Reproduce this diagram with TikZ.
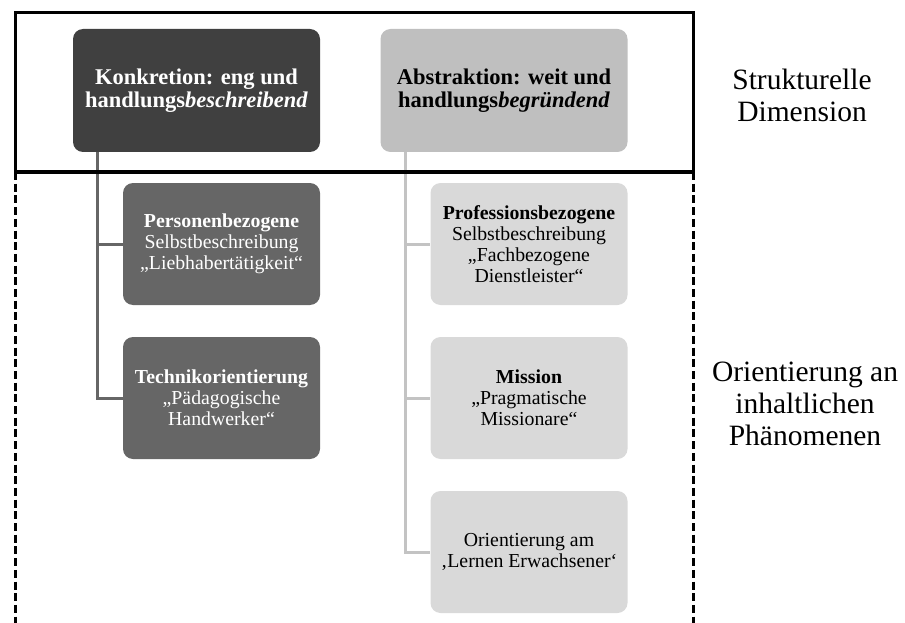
\documentclass[tikz,border=0pt]{standalone}
\usepackage{fontspec}
\setmainfont{Liberation Serif}
\usetikzlibrary{positioning}
\definecolor{darkbox}{HTML}{404040}
\definecolor{midbox}{HTML}{666666}
\definecolor{lightbox}{HTML}{BFBFBF}
\definecolor{paleback}{HTML}{D9D9D9}
\definecolor{paleline}{HTML}{C3C3C3}
\tikzset{
  headbox/.style={rounded corners=10pt, minimum width=247pt, minimum height=123pt,
    inner sep=0pt, align=center, font=\fontsize{22.5}{23}\selectfont\bfseries},
  subbox/.style={rounded corners=10pt, minimum width=197pt, minimum height=122pt,
    inner sep=0pt, align=center, font=\fontsize{19.8}{21}\selectfont},
  sidelabel/.style={align=center, font=\fontsize{29.5}{32}\selectfont},
  linkdark/.style={draw=midbox, line width=3pt},
  linklight/.style={draw=paleline, line width=3pt}
}

\begin{document}
\begin{tikzpicture}[x=1pt,y=-1pt]
                    \useasboundingbox (0,0) rectangle (905,623);
                    % obere Ebene
                    \node[headbox, fill=darkbox, text=white] (konk) at (196.5,90.5)
                      {Konkretion: eng und\\handlungs\textit{beschreibend}};
                    \node[headbox, fill=lightbox] (abst) at (504,90.5)
                      {Abstraktion: weit und\\handlungs\textit{begründend}};
                    % linke Spalte
                    \node[subbox, fill=midbox, text=white] (pers) at (221.5,244)
                      {\textbf{Personenbezogene}\\Selbstbeschreibung\\„Liebhabertätigkeit“};
                    \node[subbox, fill=midbox, text=white] (tech) at (221.5,398)
                      {\textbf{Technikorientierung}\\„Pädagogische\\Handwerker“};
                    % rechte Spalte
                    \node[subbox, fill=paleback] (prof) at (529,244)
                      {\textbf{Professionsbezogene}\\Selbstbeschreibung\\„Fachbezogene\\Dienstleister“};
                    \node[subbox, fill=paleback] (miss) at (529,398)
                      {\textbf{Mission}\\„Pragmatische\\Missionare“};
                    \node[subbox, fill=paleback] (lern) at (529,552)
                      {Orientierung am\\‚Lernen Erwachsener‘};
                    % Beschriftung rechts
                    \node[sidelabel] (strukt) at (802,95) {Strukturelle\\Dimension};
                    \node[sidelabel] (inhalt) at (805,404) {Orientierung an\\inhaltlichen\\Phänomenen};
                    % Verbindungen
                    \draw[linkdark] ([xshift=25pt]konk.south west) |- (pers.west);
                    \draw[linkdark] ([xshift=25pt]konk.south west) |- (tech.west);
                    \draw[linklight] ([xshift=25pt]abst.south west) |- (prof.west);
                    \draw[linklight] ([xshift=25pt]abst.south west) |- (miss.west);
                    \draw[linklight] ([xshift=25pt]abst.south west) |- (lern.west);
                    % Rahmen
                    \draw[line width=3pt] (15,172) -- (15,13) -- (693,13) -- (693,172) -- cycle;
                    \draw[line width=3pt, dash pattern=on 8pt off 3.7pt] (15,172) -- (15,623);
                    \draw[line width=3pt, dash pattern=on 8pt off 3.7pt] (693,172) -- (693,623);
                  \end{tikzpicture}
\end{document}
